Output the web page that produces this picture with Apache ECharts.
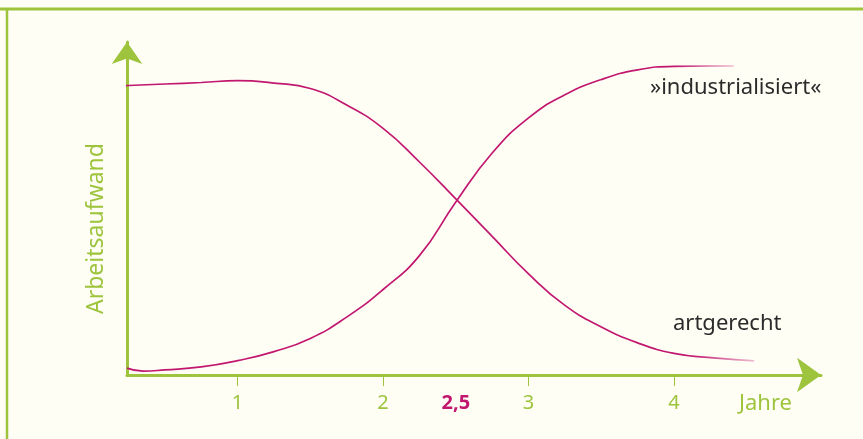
<!DOCTYPE html>
<html>
<head>
<meta charset="utf-8">
<title>Arbeitsaufwand</title>
<script src="https://cdn.jsdelivr.net/npm/echarts@6/dist/echarts.min.js"></script>
<style>
  html, body { margin: 0; padding: 0; background: #fefef5; }
  #chart { width: 863px; height: 439px; }
</style>
</head>
<body>
<div id="chart"></div>
<script>
// Daten (Jahre / Arbeitsaufwand)
const tickYears = [1, 2, 3, 4];
const labelYears = [1, 2, 2.5, 3, 4];
const highlightYear = 2.5;

const seriesNames = ['artgerecht', '»industrialisiert«'];

const artX = [0.14, 0.25, 0.5, 0.75, 1.0, 1.25, 1.5, 1.75, 2.0, 2.25, 2.5, 2.75, 3.0, 3.25, 3.5, 3.75, 4.0, 4.25, 4.55];
const artY = [96.3, 96.5, 97.0, 97.5, 98.1, 97.3, 95.5, 90.0, 82.2, 71.0, 58.7, 46.2, 33.7, 23.2, 16.0, 10.7, 7.2, 5.8, 4.7];

const indX = [0.24, 0.35, 0.5, 0.75, 1.0, 1.25, 1.5, 1.75, 2.0, 2.25, 2.5, 2.75, 3.0, 3.25, 3.5, 3.75, 4.0, 4.25, 4.41];
const indY = [2.3, 1.3, 1.7, 2.7, 4.8, 7.8, 12.2, 19.3, 28.5, 39.8, 57.7, 74.0, 85.7, 93.4, 98.5, 101.7, 102.9, 103.0, 103.0];

const green = '#9dc43c';
const magenta = '#c2176f';
const font = '"Noto Sans", "Open Sans", sans-serif';

function pairs(xs, ys) {
    return xs.map((x, i) => [x, ys[i]]);
}

// Linie läuft am Ende hell aus
function fadeLine() {
    return new echarts.graphic.LinearGradient(0, 0, 1, 0, [
        { offset: 0, color: magenta },
        { offset: 0.9, color: magenta },
        { offset: 1, color: 'rgba(194,23,111,0.25)' },
    ]);
}

var chart = echarts.init(document.getElementById('chart'), null, { renderer: 'canvas' });

chart.setOption({
    backgroundColor: '#fefef5',
    animation: false,
    grid: { left: 127, right: 42, top: 42, bottom: 64, containLabel: false },
    xAxis: {
        type: 'value',
        min: 0.24,
        max: 5.01,
        axisLine: {
            show: true,
            symbol: ['none', 'arrow'],
            symbolSize: [26, 24],
            lineStyle: { color: green, width: 3 },
        },
        axisTick: {
            show: true,
            customValues: tickYears,
            inside: false,
            length: 11,
            lineStyle: { color: green, width: 1 },
        },
        axisLabel: {
            show: true,
            customValues: labelYears,
            margin: 18,
            color: green,
            fontFamily: font,
            fontSize: 20,
            formatter: function (v) {
                const s = String(v).replace('.', ',');
                return v === highlightYear ? '{m|' + s + '}' : s;
            },
            rich: {
                m: { color: magenta, fontFamily: font, fontSize: 20, fontWeight: 'bold' },
            },
        },
        splitLine: { show: false },
    },
    yAxis: {
        type: 'value',
        min: 0,
        max: 111,
        name: 'Arbeitsaufwand',
        nameLocation: 'middle',
        nameRotate: 90,
        nameGap: 19,
        nameTextStyle: { color: green, fontFamily: font, fontSize: 23, padding: [0, 40, 0, 0] },
        axisLine: {
            show: true,
            symbol: ['none', 'arrow'],
            symbolSize: [23, 22],
            lineStyle: { color: green, width: 3 },
        },
        axisTick: { show: false },
        axisLabel: { show: false },
        splitLine: { show: false },
    },
    series: [
        {
            name: seriesNames[0],
            type: 'line',
            data: pairs(artX, artY),
            smooth: 0.5,
            showSymbol: false,
            clip: false,
            lineStyle: { color: fadeLine(), width: 1.7 },
        },
        {
            name: seriesNames[1],
            type: 'line',
            data: pairs(indX, indY),
            smooth: 0.5,
            showSymbol: false,
            clip: false,
            lineStyle: { color: fadeLine(), width: 1.7 },
        },
    ],
    graphic: [
        // Rahmen
        { type: 'line', shape: { x1: 0, y1: 9, x2: 863, y2: 9 }, style: { stroke: green, lineWidth: 3 } },
        { type: 'line', shape: { x1: 7, y1: 8, x2: 7, y2: 439 }, style: { stroke: green, lineWidth: 2.5 } },
        {
            type: 'text', x: 650, y: 88,
            style: { text: seriesNames[1], fill: '#2b2b2b', font: '22px ' + font, textVerticalAlign: 'middle' },
        },
        {
            type: 'text', x: 673, y: 324,
            style: { text: seriesNames[0], fill: '#2b2b2b', font: '22px ' + font, textVerticalAlign: 'middle' },
        },
        {
            type: 'text', x: 739, y: 404,
            style: { text: 'Jahre', fill: green, font: '22px ' + font, textVerticalAlign: 'middle' },
        },
    ],
});
</script>
</body>
</html>
